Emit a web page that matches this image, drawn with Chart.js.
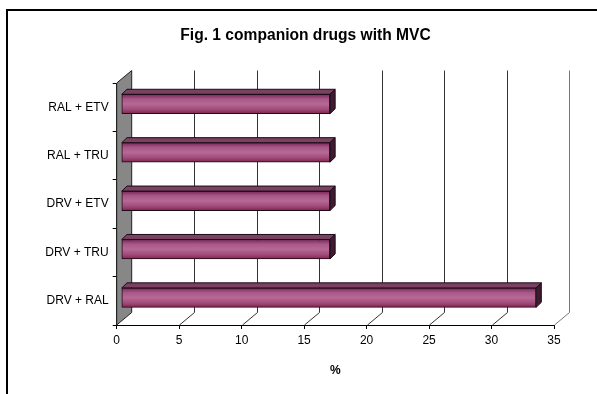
<!DOCTYPE html>
<html>
<head>
<meta charset="utf-8">
<script src="https://cdn.jsdelivr.net/npm/chart.js@4"></script>
<style>
  html, body { margin: 0; padding: 0; background: #fff; overflow: hidden; }
  #wrap { position: relative; width: 597px; height: 394px; }
  #frame { position: absolute; left: 6px; top: 9px; width: 640px; height: 440px; border: 2px solid #000; }
  canvas { position: absolute; left: 0; top: 0; }
</style>
</head>
<body>
<div id="wrap">
  <div id="frame"></div>
  <canvas id="c" width="597" height="394"></canvas>
</div>
<script>
// Companion drug combinations used with maraviroc (MVC), share of patients in %
const categories = ['RAL + ETV', 'RAL + TRU', 'DRV + ETV', 'DRV + TRU', 'DRV + RAL'];
const shares = [16.7, 16.7, 16.7, 16.7, 33.2];
const xTicks = [0, 5, 10, 15, 20, 25, 30, 35];

const FONT = "'Liberation Sans', Arial, sans-serif";
const WALL = { dx: 15, dy: -12.5 };      // depth of the back wall
const BAR_FRONT = { dx: 4.6, dy: -3.2 }; // bar front face sits a little into the depth
const BAR_DEPTH = { dx: 5.2, dy: -5 };   // thickness of each bar block
const BAR_H = 19.5;
const TITLE_LEFT = 57;                   // title is centred over the frame, not the full canvas

function barGradient(c) {
  const chart = c.chart;
  const ys = chart.scales && chart.scales.y;
  if (!ys || c.dataIndex === undefined) return '#a4527f';
  const yc = ys.getPixelForValue(c.dataIndex);
  if (!isFinite(yc)) return '#a4527f';
  const g = chart.ctx.createLinearGradient(0, yc - BAR_H / 2, 0, yc + BAR_H / 2);
  g.addColorStop(0, '#7a2656');
  g.addColorStop(0.25, '#a8588a');
  g.addColorStop(0.5, '#b66993');
  g.addColorStop(0.78, '#a04b7a');
  g.addColorStop(1, '#82224f');
  return g;
}

// Draws the pseudo-3D side wall, back grid and the top/side faces of the bars
const depthPlugin = {
  id: 'depth',
  afterLayout(chart) {
    const t = chart.titleBlock;
    if (t) { t.left = TITLE_LEFT; t.width = t.right - t.left; }
  },
  beforeDatasetsDraw(chart) {
    const { ctx, chartArea: a, scales: { x } } = chart;
    ctx.save();
    ctx.lineWidth = 1;
    // left side wall
    ctx.beginPath();
    ctx.moveTo(a.left, a.top);
    ctx.lineTo(a.left + WALL.dx, a.top + WALL.dy);
    ctx.lineTo(a.left + WALL.dx, a.bottom + WALL.dy);
    ctx.lineTo(a.left, a.bottom);
    ctx.closePath();
    ctx.fillStyle = '#878787';
    ctx.fill();
    ctx.strokeStyle = '#222';
    ctx.stroke();
    // floor diagonals and back wall grid lines
    x.ticks.forEach((t) => {
      if (t.value === 0) return;
      const px = Math.round(x.getPixelForValue(t.value)) + 0.5;
      const last = t.value === x.max;
      ctx.strokeStyle = last ? '#777' : '#333';
      ctx.beginPath();
      ctx.moveTo(px, a.bottom);
      ctx.lineTo(px + WALL.dx, a.bottom + WALL.dy);
      ctx.lineTo(px + WALL.dx, a.top + WALL.dy);
      ctx.stroke();
    });
    ctx.restore();
    // bars are drawn slightly set back into the depth
    ctx.save();
    ctx.translate(BAR_FRONT.dx, BAR_FRONT.dy);
  },
  afterDatasetsDraw(chart) {
    const ctx = chart.ctx;
    chart.getDatasetMeta(0).data.forEach((bar) => {
      const { x, y, base, height } = bar.getProps(['x', 'y', 'base', 'height'], true);
      const top = y - height / 2;
      const bottom = y + height / 2;
      ctx.lineWidth = 1;
      ctx.strokeStyle = '#1c0a14';
      ctx.lineJoin = 'round';
      // top face
      ctx.beginPath();
      ctx.moveTo(base, top);
      ctx.lineTo(base + BAR_DEPTH.dx, top + BAR_DEPTH.dy);
      ctx.lineTo(x + BAR_DEPTH.dx, top + BAR_DEPTH.dy);
      ctx.lineTo(x, top);
      ctx.closePath();
      ctx.fillStyle = '#7a4262';
      ctx.fill();
      ctx.stroke();
      // end face
      ctx.beginPath();
      ctx.moveTo(x, top);
      ctx.lineTo(x + BAR_DEPTH.dx, top + BAR_DEPTH.dy);
      ctx.lineTo(x + BAR_DEPTH.dx, bottom + BAR_DEPTH.dy);
      ctx.lineTo(x, bottom);
      ctx.closePath();
      ctx.fillStyle = '#3e1b30';
      ctx.fill();
      ctx.stroke();
    });
    ctx.restore();
  }
};

new Chart(document.getElementById('c'), {
  type: 'bar',
  data: {
    labels: categories,
    datasets: [{
      data: shares,
      backgroundColor: barGradient,
      borderColor: '#1c0a14',
      borderWidth: 1,
      borderSkipped: false,
      barThickness: BAR_H,
      clip: false
    }]
  },
  options: {
    indexAxis: 'y',
    responsive: false,
    animation: false,
    devicePixelRatio: 1,
    layout: { padding: { left: 0, right: 43, top: 0, bottom: 0 } },
    plugins: {
      legend: { display: false },
      tooltip: { enabled: false },
      title: {
        display: true,
        text: 'Fig. 1 companion drugs with MVC',
        color: '#000',
        font: { family: FONT, size: 15.6, weight: 'bold' },
        padding: { top: 26, bottom: 38.3 }
      }
    },
    scales: {
      x: {
        type: 'linear',
        min: 0,
        max: 35,
        afterBuildTicks: (s) => { s.ticks = xTicks.map((v) => ({ value: v })); },
        afterFit: (s) => { s.height = 69; },
        grid: { drawOnChartArea: false, drawTicks: true, tickLength: 4, color: '#000' },
        border: { display: true, color: '#000' },
        ticks: { color: '#000', font: { family: FONT, size: 12 }, padding: 4 },
        title: {
          display: true,
          text: '%',
          color: '#000',
          font: { family: FONT, size: 12, weight: 'bold' },
          padding: { top: 0, bottom: 16 }
        }
      },
      y: {
        afterFit: (s) => { s.width = 116.7; },
        grid: { drawOnChartArea: false, drawTicks: true, tickLength: 4, color: '#000', offset: true },
        border: { display: true, color: '#000' },
        ticks: { color: '#000', font: { family: FONT, size: 12 }, padding: 4 }
      }
    }
  },
  plugins: [depthPlugin]
});
</script>
</body>
</html>
